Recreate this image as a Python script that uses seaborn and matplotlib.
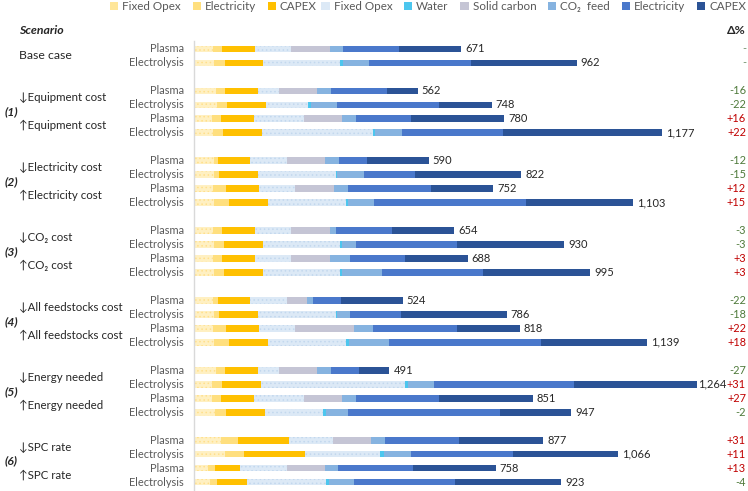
import numpy as np
import pandas as pd
import matplotlib
matplotlib.use("Agg")
import matplotlib.pyplot as plt
import matplotlib.transforms as mtransforms
from matplotlib.patches import Patch
import seaborn as sns

# ---------------- data ----------------
scenarios = ["Base case", "\u2193Equipment cost", "\u2191Equipment cost",
             "\u2193Electricity cost", "\u2191Electricity cost",
             "\u2193CO\u2082 cost", "\u2191CO\u2082 cost",
             "\u2193All feedstocks cost", "\u2191All feedstocks cost",
             "\u2193Energy needed", "\u2191Energy needed",
             "\u2193SPC rate", "\u2191SPC rate"]
group_tags = ["(1)", "(2)", "(3)", "(4)", "(5)", "(6)"]
processes = ["Plasma", "Electrolysis"] * 13

fixed_opex_y = [48, 50, 55, 58, 44, 48, 50, 50, 48, 50, 48, 50, 48, 50, 48, 50, 48, 50, 55, 45, 44, 54, 69, 77, 36, 40]
electricity_y = [22, 27, 23, 26, 23, 25, 10, 13, 32, 38, 22, 26, 22, 26, 12, 13, 32, 38, 23, 26, 23, 26, 41, 49, 17, 18]
capex_y = [83, 96, 83, 97, 83, 98, 81, 98, 83, 98, 83, 97, 83, 97, 81, 98, 83, 98, 83, 97, 83, 98, 128, 152, 62, 75]
fixed_opex_b = [90, 195, 52, 106, 126, 279, 92, 195, 92, 195, 90, 195, 90, 195, 92, 195, 92, 195, 52, 363, 126, 146, 110, 190, 118, 198]
water = [0, 7, 0, 6, 0, 6, 0, 3, 0, 6, 0, 4, 0, 4, 0, 3, 0, 9, 0, 7, 0, 7, 0, 9, 0, 7]
solid_carbon = [98, 0, 97, 0, 97, 0, 97, 0, 97, 0, 98, 0, 98, 0, 50, 0, 146, 0, 97, 0, 97, 0, 96, 0, 96, 0]
co2_feed = [33, 65, 33, 66, 33, 66, 34, 67, 34, 65, 16, 34, 50, 101, 15, 32, 49, 99, 33, 65, 33, 55, 37, 67, 33, 63]
electricity_b = [140, 257, 141, 256, 139, 255, 70, 129, 210, 383, 141, 256, 140, 254, 71, 129, 212, 383, 71, 353, 210, 382, 186, 258, 187, 256]
capex_b = [157, 265, 78, 133, 235, 400, 156, 267, 156, 268, 156, 268, 157, 268, 155, 266, 156, 267, 77, 308, 235, 179, 210, 264, 209, 266]
delta_pct = ["-", "-", "-16", "-22", "+16", "+22", "-12", "-15", "+12", "+15",
             "-3", "-3", "+3", "+3", "-22", "-18", "+22", "+18",
             "-27", "+31", "+27", "-2", "+31", "+11", "+13", "-4"]

series_names = ["Fixed Opex", "Electricity", "CAPEX",
                "Fixed Opex", "Water", "Solid carbon", "CO\u2082  feed", "Electricity", "CAPEX"]
series_vals = [fixed_opex_y, electricity_y, capex_y, fixed_opex_b, water,
               solid_carbon, co2_feed, electricity_b, capex_b]
series_colors = ["#FFF0C2", "#FFDF7E", "#FFC000", "#DCE9F6", "#4CC6EE",
                 "#C5C5D5", "#86B3E0", "#4A78CB", "#2B5396"]
series_hatch = ["....", None, None, "....", None, None, None, None, None]
hatch_colors = ["#FFE08C", None, None, "#C3D8EE", None, None, None, None, None]

# ---------------- layout ----------------
W, H = 748, 491
PX_PER_UNIT = 0.398
X0 = 194.0
Y0, DY = 49.0, 13.97

rows = [0, 1] + [3 + 5 * k + j for k in range(6) for j in range(4)]

sns.set_style("white")
plt.rcParams["font.family"] = ["Lato", "DejaVu Sans"]
plt.rcParams["hatch.linewidth"] = 0.6

fig = plt.figure(figsize=(W / 100, H / 100), dpi=100)
ax = fig.add_axes([0, 0, 1, 1])

vals = np.array(series_vals, dtype=float)
cums = np.cumsum(vals, axis=0)
totals = cums[-1]

# painter's order: longest cumulative first
for j in range(len(series_vals) - 1, -1, -1):
    df = pd.DataFrame({"pos": rows, "cum": cums[j]})
    kw = {}
    if series_hatch[j]:
        kw = dict(hatch=series_hatch[j], edgecolor=hatch_colors[j])
    sns.barplot(data=df, x="cum", y="pos", orient="y", native_scale=True,
                color=series_colors[j], saturation=1, errorbar=None,
                width=0.48, linewidth=0, ax=ax, **kw)

ax.set_xlim(-X0 / PX_PER_UNIT, (W - X0) / PX_PER_UNIT)
ax.set_ylim((H - Y0) / DY, -Y0 / DY)
ax.set_xlabel("")
ax.set_ylabel("")
ax.set_xticks([])
ax.set_yticks([])
for s in ["top", "right", "bottom"]:
    ax.spines[s].set_visible(False)
ax.spines["left"].set_position(("data", 0))
ax.spines["left"].set_bounds(-0.55, (H - Y0) / DY)
ax.spines["left"].set_color("#D9D9D9")
ax.spines["left"].set_linewidth(1.0)

figx = mtransforms.blended_transform_factory(fig.transFigure, ax.transData)

dark = "#262626"
grey = "#595959"
# value labels (nudged closer to the bar if it would run into the delta column)
for r, t in zip(rows, totals):
    label = f"{int(round(t)):,}"
    end_px = X0 + t * PX_PER_UNIT
    off = 10 if end_px + 4 + 27 < 726 else 3
    ax.text(t + off, r, label, va="center", ha="left", fontsize=8.0, color=dark)
# process labels
for r, p in zip(rows, processes):
    ax.text(184 / W, r, p, transform=figx, va="center", ha="right",
            fontsize=7.9, color=grey)
# delta labels
for r, d in zip(rows, delta_pct):
    c = "#C00000" if d.startswith("+") else ("#4E7A3A" if d != "-" else "#6F8F6A")
    ax.text(746 / W, r, d, transform=figx, va="center", ha="right",
            fontsize=7.9, color=c)

# scenario labels
ax.text(19 / W, 0.5, scenarios[0], transform=figx, va="center", ha="left",
        fontsize=8.8, color=dark)
for k in range(6):
    base = 3 + 5 * k
    ax.text(19 / W, base + 0.5, scenarios[1 + 2 * k], transform=figx,
            va="center", ha="left", fontsize=8.3, color=dark)
    ax.text(19 / W, base + 2.5, scenarios[2 + 2 * k], transform=figx,
            va="center", ha="left", fontsize=8.3, color=dark)
    ax.text(5 / W, base + 1.5, group_tags[k], transform=figx, va="center",
            ha="left", fontsize=8.8, color=dark, fontweight="bold",
            fontstyle="italic")

ax.text(19 / W, (31 - Y0) / DY, "Scenario", transform=figx, va="center",
        ha="left", fontsize=8.8, color=dark, fontweight="bold",
        fontstyle="italic")
ax.text(746 / W, (31 - Y0) / DY, "\u0394%", transform=figx, va="center",
        ha="right", fontsize=8.8, color=dark, fontweight="bold")

# legends
def handles(idx):
    hs = []
    for j in idx:
        fc = series_colors[j] if j != 0 else "#FFE699"
        hs.append(Patch(facecolor=fc, edgecolor="none", label=series_names[j]))
    return hs

leg_kw = dict(frameon=False, fontsize=8.4, handlelength=0.7, handleheight=0.7,
              handletextpad=0.35, columnspacing=1.0, borderpad=0,
              borderaxespad=0, labelcolor=grey)
leg1 = fig.legend(handles=handles([0, 1, 2]), ncol=3, loc="upper left",
                  bbox_to_anchor=(110 / W, 1 - 1 / H), **leg_kw)
leg2 = fig.legend(handles=handles([3, 4, 5, 6, 7, 8]), ncol=6, loc="upper right",
                  bbox_to_anchor=(746 / W, 1 - 1 / H), **leg_kw)

fig.savefig("out.png", dpi=100)
